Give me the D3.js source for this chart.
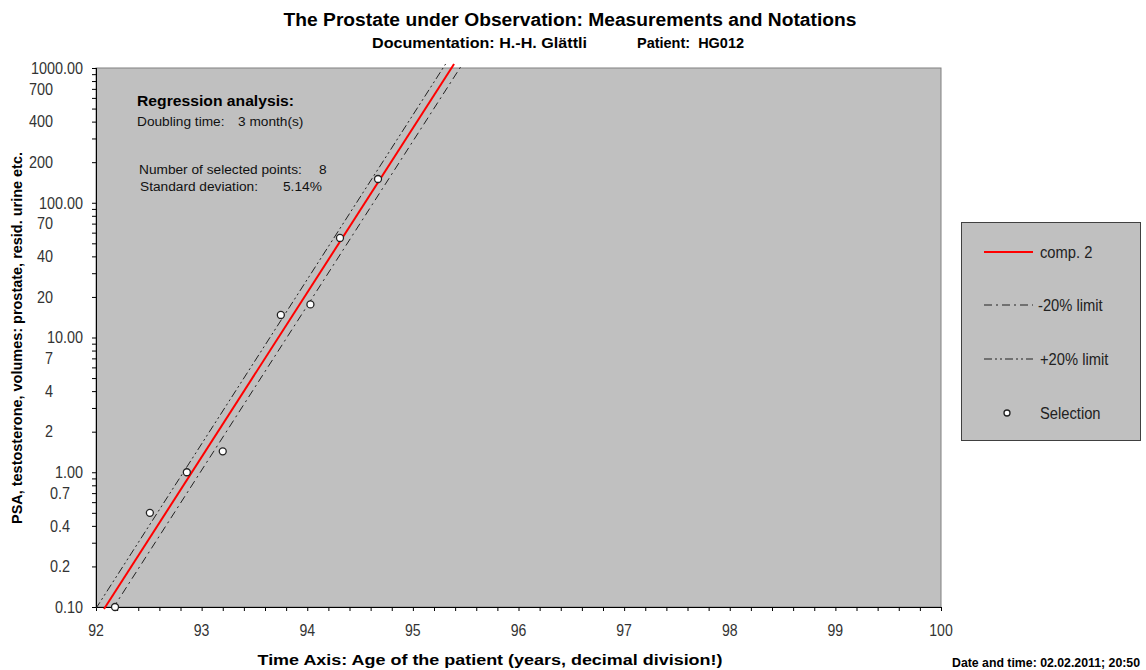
<!DOCTYPE html>
<html><head><meta charset="utf-8">
<script src="https://cdn.jsdelivr.net/npm/d3@7"></script>
<style>
body{margin:0;background:#fff}
svg{display:block}
text{font-family:"Liberation Sans",Arial,Helvetica,sans-serif}
</style>
</head><body>
<svg id="c" width="1146" height="670"></svg>
<script>
// ---- data ----
const selX = [92.18, 92.51, 92.86, 93.20, 93.75, 94.03, 94.31, 94.67];
const selY = [0.10, 0.50, 1.00, 1.43, 14.7, 17.6, 54.8, 150];
const regX = [92.076, 95.390];
const regY = [0.0966, 1071];
const minus20X = [92.156, 95.470];
const minus20Y = [0.0966, 1071];
const plus20X = [91.996, 95.310];
const plus20Y = [0.0966, 1071];
const xTickValues = [92, 93, 94, 95, 96, 97, 98, 99, 100];
const yMajorValues = [1000, 100, 10, 1, 0.1];
const yMajorLabels = ["1000.00", "100.00", "10.00", "1.00", "0.10"];
const yMinorValues = [700, 400, 200, 70, 40, 20, 7, 4, 2, 0.7, 0.4, 0.2];
const yMinorLabels = ["700", "400", "200", "70", "40", "20", "7", "4", "2", "0.7", "0.4", "0.2"];
const legendLabels = ["comp. 2", "-20% limit", "+20% limit", "Selection"];

// ---- layout ----
const svg = d3.select("#c");
const L = 96, R = 941, T = 68, B = 607;
const x = d3.scaleLinear().domain([92, 100]).range([L, R]);
const y = d3.scaleLog().domain([0.1, 1000]).range([B, T]);

function condense(sel, w) {
  sel.each(function () {
    const n = this.getComputedTextLength();
    if (w && n > 0) d3.select(this).attr("textLength", w).attr("lengthAdjust", "spacingAndGlyphs");
  });
  return sel;
}
function squeeze(sel, f) {
  sel.each(function () {
    const n = this.getComputedTextLength();
    if (n > 0) d3.select(this).attr("textLength", n * f).attr("lengthAdjust", "spacingAndGlyphs");
  });
  return sel;
}

// plot area
svg.append("rect").attr("x", L).attr("y", T).attr("width", R - L).attr("height", B - T)
  .attr("fill", "#c0c0c0").attr("stroke", "#808080").attr("stroke-width", 1);

// clip for lines
svg.append("clipPath").attr("id", "pc").append("rect")
  .attr("x", L).attr("y", T - 6).attr("width", R - L).attr("height", B - T + 9);

// axes
const xAxis = d3.axisBottom(x).tickValues(d3.range(92, 100.001, 0.2)).tickSize(4).tickFormat("");
svg.append("g").attr("transform", `translate(0,${B})`).call(xAxis)
  .call(g => { g.select(".domain").attr("stroke", "#000").attr("d", `M${L},0.5H${R}`); g.selectAll("line").attr("stroke", "#000"); });

const yTickVals = [];
[0.1, 1, 10, 100].forEach(d => { for (let k = 1; k < 10; k++) yTickVals.push(d * k); });
yTickVals.push(1000);
const yAxis = d3.axisLeft(y).tickValues(yTickVals).tickSize(4).tickFormat("");
svg.append("g").attr("transform", `translate(${L},0)`).call(yAxis)
  .call(g => { g.select(".domain").attr("stroke", "#000").attr("d", `M0.5,${T}V${B}`); g.selectAll("line").attr("stroke", "#000"); });

// x tick labels
squeeze(svg.append("g").selectAll("text").data(xTickValues).join("text")
  .attr("x", d => x(d)).attr("y", 636).attr("text-anchor", "middle")
  .attr("font-size", 16).attr("fill", "#333").text(d => d), 0.88);

// y tick labels
squeeze(svg.append("g").selectAll("text").data(yMajorValues).join("text")
  .attr("x", 83).attr("y", d => y(d)).attr("dy", "0.36em").attr("text-anchor", "end")
  .attr("font-size", 16).attr("fill", "#333").text((d, i) => yMajorLabels[i]), 0.9);
squeeze(svg.append("g").selectAll("text").data(yMinorValues).join("text")
  .attr("x", d => d >= 1 ? 53 : 70).attr("y", d => y(d)).attr("dy", "0.36em").attr("text-anchor", "end")
  .attr("font-size", 16).attr("fill", "#333").text((d, i) => yMinorLabels[i]), 0.9);

// lines
const line = d3.line().x(d => x(d[0])).y(d => y(d[1]));
const gl = svg.append("g").attr("clip-path", "url(#pc)");
gl.append("path").datum(d3.zip(plus20X, plus20Y)).attr("d", line)
  .attr("fill", "none").attr("stroke", "#222").attr("stroke-width", 1).attr("stroke-dasharray", "8,3,2,3,2,3");
gl.append("path").datum(d3.zip(minus20X, minus20Y)).attr("d", line)
  .attr("fill", "none").attr("stroke", "#222").attr("stroke-width", 1).attr("stroke-dasharray", "8,4,2,4");
gl.append("path").datum(d3.zip(regX, regY)).attr("d", line)
  .attr("fill", "none").attr("stroke", "#ff0000").attr("stroke-width", 2);

// selection points
svg.append("g").selectAll("circle").data(d3.zip(selX, selY)).join("circle")
  .attr("cx", d => x(d[0])).attr("cy", d => y(d[1])).attr("r", 3.5)
  .attr("fill", "#fff").attr("stroke", "#222").attr("stroke-width", 1.3);

// annotation
condense(svg.append("text").attr("x", 137).attr("y", 106).attr("font-size", 15).attr("font-weight", "bold")
  .attr("fill", "#000").text("Regression analysis:"), 157);
const fs = 13.7;
svg.append("text").attr("x", 137).attr("y", 126).attr("font-size", fs).attr("fill", "#111").text("Doubling time:");
svg.append("text").attr("x", 238).attr("y", 126).attr("font-size", fs).attr("fill", "#111").text("3 month(s)");
svg.append("text").attr("x", 139).attr("y", 174).attr("font-size", fs).attr("fill", "#111").text("Number of selected points:");
svg.append("text").attr("x", 319).attr("y", 174).attr("font-size", fs).attr("fill", "#111").text("8");
svg.append("text").attr("x", 140).attr("y", 191).attr("font-size", fs).attr("fill", "#111").text("Standard deviation:");
svg.append("text").attr("x", 283).attr("y", 191).attr("font-size", fs).attr("fill", "#111").text("5.14%");

// titles
condense(svg.append("text").attr("x", 570).attr("y", 26).attr("text-anchor", "middle")
  .attr("font-size", 18).attr("font-weight", "bold").text("The Prostate under Observation: Measurements and Notations"), 573);
condense(svg.append("text").attr("x", 372).attr("y", 48)
  .attr("font-size", 14).attr("font-weight", "bold").text("Documentation: H.-H. Glättli"), 215);
condense(svg.append("text").attr("x", 637).attr("y", 48)
  .attr("font-size", 14).attr("font-weight", "bold").text("Patient:  HG012").attr("xml:space", "preserve").style("white-space", "pre"), 107);
condense(svg.append("text").attr("x", 490).attr("y", 665).attr("text-anchor", "middle")
  .attr("font-size", 14).attr("font-weight", "bold").text("Time Axis: Age of the patient (years, decimal division!)"), 465);
condense(svg.append("text").attr("transform", "translate(22,338) rotate(-90)").attr("text-anchor", "middle")
  .attr("font-size", 14).attr("font-weight", "bold").text("PSA, testosterone, volumes: prostate, resid. urine etc."), 372);
condense(svg.append("text").attr("x", 1140).attr("y", 667).attr("text-anchor", "end")
  .attr("font-size", 12).attr("font-weight", "bold").text("Date and time: 02.02.2011; 20:50"), 188);

// legend
const lg = svg.append("g");
lg.append("rect").attr("x", 961.5).attr("y", 222.5).attr("width", 179).attr("height", 218)
  .attr("fill", "#c0c0c0").attr("stroke", "#404040").attr("stroke-width", 1);
const ly = [252, 305, 359, 413];
lg.append("line").attr("x1", 984).attr("x2", 1033).attr("y1", ly[0]).attr("y2", ly[0])
  .attr("stroke", "#ff0000").attr("stroke-width", 2);
lg.append("line").attr("x1", 984).attr("x2", 1033).attr("y1", ly[1]).attr("y2", ly[1])
  .attr("stroke", "#222").attr("stroke-dasharray", "8,4,2,4");
lg.append("line").attr("x1", 984).attr("x2", 1033).attr("y1", ly[2]).attr("y2", ly[2])
  .attr("stroke", "#222").attr("stroke-dasharray", "8,3,2,3,2,3");
lg.append("circle").attr("cx", 1007).attr("cy", ly[3]).attr("r", 3)
  .attr("fill", "#fff").attr("stroke", "#222").attr("stroke-width", 1.3);
squeeze(lg.selectAll("text.lbl").data(legendLabels).join("text").attr("class", "lbl")
  .attr("x", (d, i) => i === 1 ? 1038 : 1040).attr("y", (d, i) => ly[i]).attr("dy", "0.36em")
  .attr("font-size", 16).attr("fill", "#222").text(d => d), 0.92);
</script>
</body></html>
